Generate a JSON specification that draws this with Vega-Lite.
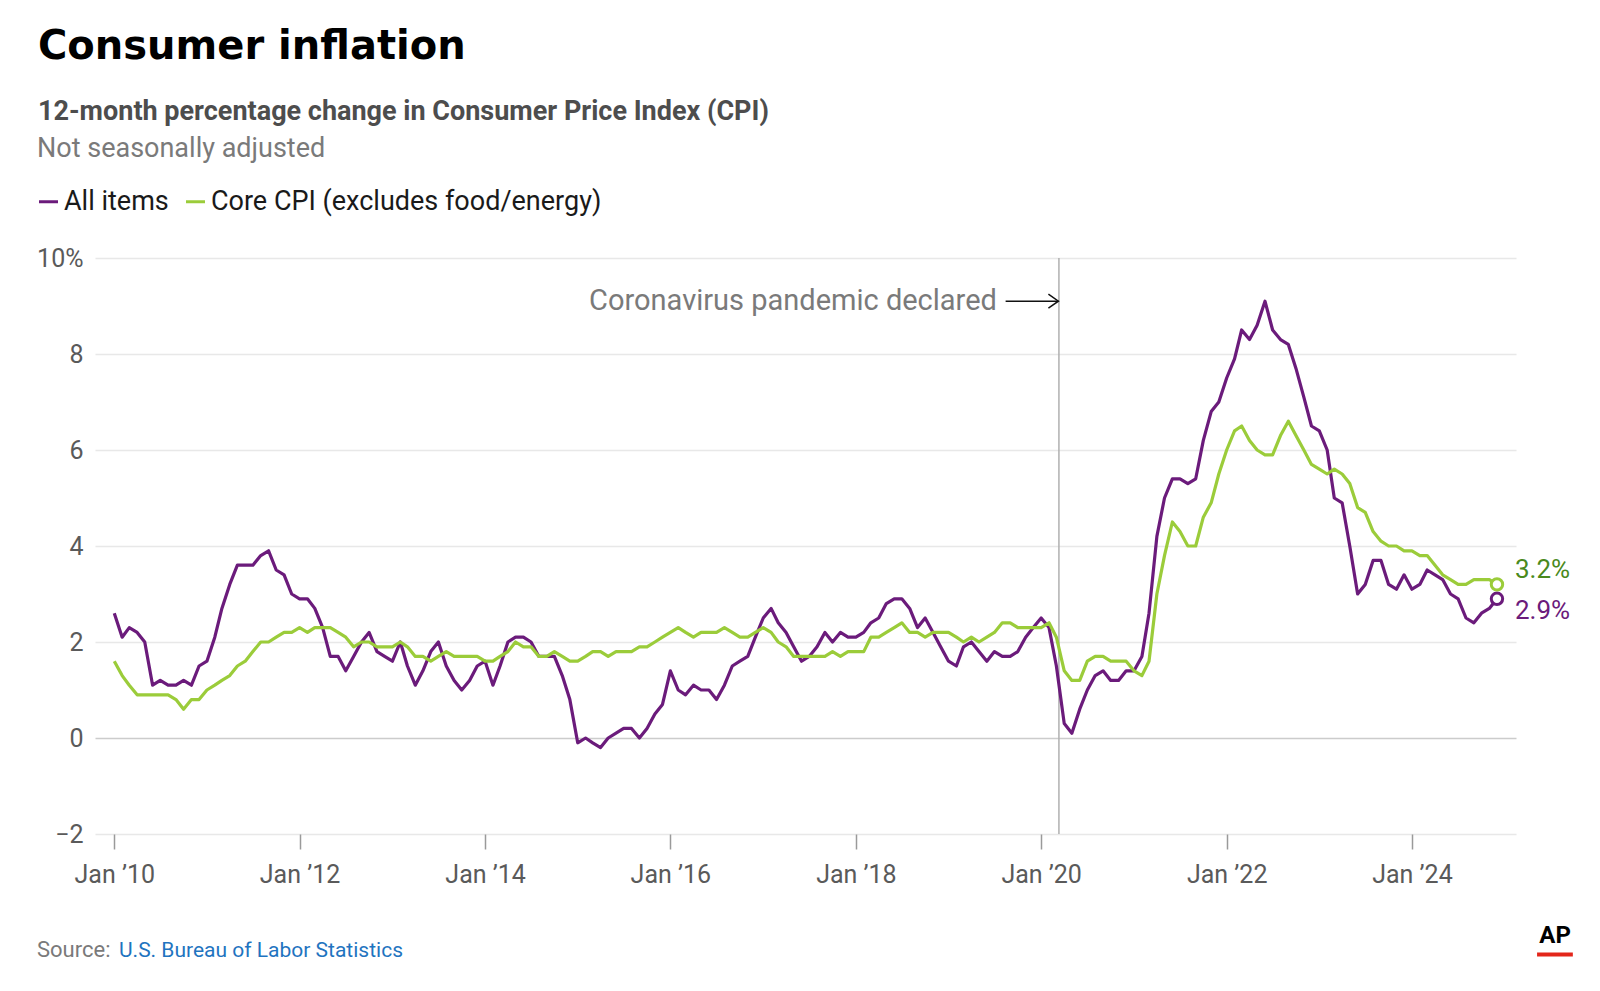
{
  "$schema": "https://vega.github.io/schema/vega-lite/v6.json",
  "width": 1421,
  "height": 576,
  "autosize": {"type": "none"},
  "padding": {"left": 95, "top": 258, "right": 84, "bottom": 157},
  "background": "white",
  "title": {
    "text": "Consumer inflation",
    "subtitle": "12-month percentage change in Consumer Price Index (CPI)",
    "anchor": "start",
    "frame": "group",
    "dx": -57,
    "offset": 10,
    "font": "DejaVu Sans",
    "fontSize": 40,
    "fontWeight": "bold",
    "color": "#000000",
    "subtitleFont": "Roboto",
    "subtitleFontSize": 27,
    "subtitleFontWeight": "bold",
    "subtitleColor": "#4d4d4d",
    "subtitlePadding": 32
  },
  "data": {
    "values": [
      {"date": "2010-01", "series": "All items", "value": 2.6},
      {"date": "2010-02", "series": "All items", "value": 2.1},
      {"date": "2010-03", "series": "All items", "value": 2.3},
      {"date": "2010-04", "series": "All items", "value": 2.2},
      {"date": "2010-05", "series": "All items", "value": 2.0},
      {"date": "2010-06", "series": "All items", "value": 1.1},
      {"date": "2010-07", "series": "All items", "value": 1.2},
      {"date": "2010-08", "series": "All items", "value": 1.1},
      {"date": "2010-09", "series": "All items", "value": 1.1},
      {"date": "2010-10", "series": "All items", "value": 1.2},
      {"date": "2010-11", "series": "All items", "value": 1.1},
      {"date": "2010-12", "series": "All items", "value": 1.5},
      {"date": "2011-01", "series": "All items", "value": 1.6},
      {"date": "2011-02", "series": "All items", "value": 2.1},
      {"date": "2011-03", "series": "All items", "value": 2.7},
      {"date": "2011-04", "series": "All items", "value": 3.2},
      {"date": "2011-05", "series": "All items", "value": 3.6},
      {"date": "2011-06", "series": "All items", "value": 3.6},
      {"date": "2011-07", "series": "All items", "value": 3.6},
      {"date": "2011-08", "series": "All items", "value": 3.8},
      {"date": "2011-09", "series": "All items", "value": 3.9},
      {"date": "2011-10", "series": "All items", "value": 3.5},
      {"date": "2011-11", "series": "All items", "value": 3.4},
      {"date": "2011-12", "series": "All items", "value": 3.0},
      {"date": "2012-01", "series": "All items", "value": 2.9},
      {"date": "2012-02", "series": "All items", "value": 2.9},
      {"date": "2012-03", "series": "All items", "value": 2.7},
      {"date": "2012-04", "series": "All items", "value": 2.3},
      {"date": "2012-05", "series": "All items", "value": 1.7},
      {"date": "2012-06", "series": "All items", "value": 1.7},
      {"date": "2012-07", "series": "All items", "value": 1.4},
      {"date": "2012-08", "series": "All items", "value": 1.7},
      {"date": "2012-09", "series": "All items", "value": 2.0},
      {"date": "2012-10", "series": "All items", "value": 2.2},
      {"date": "2012-11", "series": "All items", "value": 1.8},
      {"date": "2012-12", "series": "All items", "value": 1.7},
      {"date": "2013-01", "series": "All items", "value": 1.6},
      {"date": "2013-02", "series": "All items", "value": 2.0},
      {"date": "2013-03", "series": "All items", "value": 1.5},
      {"date": "2013-04", "series": "All items", "value": 1.1},
      {"date": "2013-05", "series": "All items", "value": 1.4},
      {"date": "2013-06", "series": "All items", "value": 1.8},
      {"date": "2013-07", "series": "All items", "value": 2.0},
      {"date": "2013-08", "series": "All items", "value": 1.5},
      {"date": "2013-09", "series": "All items", "value": 1.2},
      {"date": "2013-10", "series": "All items", "value": 1.0},
      {"date": "2013-11", "series": "All items", "value": 1.2},
      {"date": "2013-12", "series": "All items", "value": 1.5},
      {"date": "2014-01", "series": "All items", "value": 1.6},
      {"date": "2014-02", "series": "All items", "value": 1.1},
      {"date": "2014-03", "series": "All items", "value": 1.5},
      {"date": "2014-04", "series": "All items", "value": 2.0},
      {"date": "2014-05", "series": "All items", "value": 2.1},
      {"date": "2014-06", "series": "All items", "value": 2.1},
      {"date": "2014-07", "series": "All items", "value": 2.0},
      {"date": "2014-08", "series": "All items", "value": 1.7},
      {"date": "2014-09", "series": "All items", "value": 1.7},
      {"date": "2014-10", "series": "All items", "value": 1.7},
      {"date": "2014-11", "series": "All items", "value": 1.3},
      {"date": "2014-12", "series": "All items", "value": 0.8},
      {"date": "2015-01", "series": "All items", "value": -0.1},
      {"date": "2015-02", "series": "All items", "value": 0.0},
      {"date": "2015-03", "series": "All items", "value": -0.1},
      {"date": "2015-04", "series": "All items", "value": -0.2},
      {"date": "2015-05", "series": "All items", "value": 0.0},
      {"date": "2015-06", "series": "All items", "value": 0.1},
      {"date": "2015-07", "series": "All items", "value": 0.2},
      {"date": "2015-08", "series": "All items", "value": 0.2},
      {"date": "2015-09", "series": "All items", "value": 0.0},
      {"date": "2015-10", "series": "All items", "value": 0.2},
      {"date": "2015-11", "series": "All items", "value": 0.5},
      {"date": "2015-12", "series": "All items", "value": 0.7},
      {"date": "2016-01", "series": "All items", "value": 1.4},
      {"date": "2016-02", "series": "All items", "value": 1.0},
      {"date": "2016-03", "series": "All items", "value": 0.9},
      {"date": "2016-04", "series": "All items", "value": 1.1},
      {"date": "2016-05", "series": "All items", "value": 1.0},
      {"date": "2016-06", "series": "All items", "value": 1.0},
      {"date": "2016-07", "series": "All items", "value": 0.8},
      {"date": "2016-08", "series": "All items", "value": 1.1},
      {"date": "2016-09", "series": "All items", "value": 1.5},
      {"date": "2016-10", "series": "All items", "value": 1.6},
      {"date": "2016-11", "series": "All items", "value": 1.7},
      {"date": "2016-12", "series": "All items", "value": 2.1},
      {"date": "2017-01", "series": "All items", "value": 2.5},
      {"date": "2017-02", "series": "All items", "value": 2.7},
      {"date": "2017-03", "series": "All items", "value": 2.4},
      {"date": "2017-04", "series": "All items", "value": 2.2},
      {"date": "2017-05", "series": "All items", "value": 1.9},
      {"date": "2017-06", "series": "All items", "value": 1.6},
      {"date": "2017-07", "series": "All items", "value": 1.7},
      {"date": "2017-08", "series": "All items", "value": 1.9},
      {"date": "2017-09", "series": "All items", "value": 2.2},
      {"date": "2017-10", "series": "All items", "value": 2.0},
      {"date": "2017-11", "series": "All items", "value": 2.2},
      {"date": "2017-12", "series": "All items", "value": 2.1},
      {"date": "2018-01", "series": "All items", "value": 2.1},
      {"date": "2018-02", "series": "All items", "value": 2.2},
      {"date": "2018-03", "series": "All items", "value": 2.4},
      {"date": "2018-04", "series": "All items", "value": 2.5},
      {"date": "2018-05", "series": "All items", "value": 2.8},
      {"date": "2018-06", "series": "All items", "value": 2.9},
      {"date": "2018-07", "series": "All items", "value": 2.9},
      {"date": "2018-08", "series": "All items", "value": 2.7},
      {"date": "2018-09", "series": "All items", "value": 2.3},
      {"date": "2018-10", "series": "All items", "value": 2.5},
      {"date": "2018-11", "series": "All items", "value": 2.2},
      {"date": "2018-12", "series": "All items", "value": 1.9},
      {"date": "2019-01", "series": "All items", "value": 1.6},
      {"date": "2019-02", "series": "All items", "value": 1.5},
      {"date": "2019-03", "series": "All items", "value": 1.9},
      {"date": "2019-04", "series": "All items", "value": 2.0},
      {"date": "2019-05", "series": "All items", "value": 1.8},
      {"date": "2019-06", "series": "All items", "value": 1.6},
      {"date": "2019-07", "series": "All items", "value": 1.8},
      {"date": "2019-08", "series": "All items", "value": 1.7},
      {"date": "2019-09", "series": "All items", "value": 1.7},
      {"date": "2019-10", "series": "All items", "value": 1.8},
      {"date": "2019-11", "series": "All items", "value": 2.1},
      {"date": "2019-12", "series": "All items", "value": 2.3},
      {"date": "2020-01", "series": "All items", "value": 2.5},
      {"date": "2020-02", "series": "All items", "value": 2.3},
      {"date": "2020-03", "series": "All items", "value": 1.5},
      {"date": "2020-04", "series": "All items", "value": 0.3},
      {"date": "2020-05", "series": "All items", "value": 0.1},
      {"date": "2020-06", "series": "All items", "value": 0.6},
      {"date": "2020-07", "series": "All items", "value": 1.0},
      {"date": "2020-08", "series": "All items", "value": 1.3},
      {"date": "2020-09", "series": "All items", "value": 1.4},
      {"date": "2020-10", "series": "All items", "value": 1.2},
      {"date": "2020-11", "series": "All items", "value": 1.2},
      {"date": "2020-12", "series": "All items", "value": 1.4},
      {"date": "2021-01", "series": "All items", "value": 1.4},
      {"date": "2021-02", "series": "All items", "value": 1.7},
      {"date": "2021-03", "series": "All items", "value": 2.6},
      {"date": "2021-04", "series": "All items", "value": 4.2},
      {"date": "2021-05", "series": "All items", "value": 5.0},
      {"date": "2021-06", "series": "All items", "value": 5.4},
      {"date": "2021-07", "series": "All items", "value": 5.4},
      {"date": "2021-08", "series": "All items", "value": 5.3},
      {"date": "2021-09", "series": "All items", "value": 5.4},
      {"date": "2021-10", "series": "All items", "value": 6.2},
      {"date": "2021-11", "series": "All items", "value": 6.8},
      {"date": "2021-12", "series": "All items", "value": 7.0},
      {"date": "2022-01", "series": "All items", "value": 7.5},
      {"date": "2022-02", "series": "All items", "value": 7.9},
      {"date": "2022-03", "series": "All items", "value": 8.5},
      {"date": "2022-04", "series": "All items", "value": 8.3},
      {"date": "2022-05", "series": "All items", "value": 8.6},
      {"date": "2022-06", "series": "All items", "value": 9.1},
      {"date": "2022-07", "series": "All items", "value": 8.5},
      {"date": "2022-08", "series": "All items", "value": 8.3},
      {"date": "2022-09", "series": "All items", "value": 8.2},
      {"date": "2022-10", "series": "All items", "value": 7.7},
      {"date": "2022-11", "series": "All items", "value": 7.1},
      {"date": "2022-12", "series": "All items", "value": 6.5},
      {"date": "2023-01", "series": "All items", "value": 6.4},
      {"date": "2023-02", "series": "All items", "value": 6.0},
      {"date": "2023-03", "series": "All items", "value": 5.0},
      {"date": "2023-04", "series": "All items", "value": 4.9},
      {"date": "2023-05", "series": "All items", "value": 4.0},
      {"date": "2023-06", "series": "All items", "value": 3.0},
      {"date": "2023-07", "series": "All items", "value": 3.2},
      {"date": "2023-08", "series": "All items", "value": 3.7},
      {"date": "2023-09", "series": "All items", "value": 3.7},
      {"date": "2023-10", "series": "All items", "value": 3.2},
      {"date": "2023-11", "series": "All items", "value": 3.1},
      {"date": "2023-12", "series": "All items", "value": 3.4},
      {"date": "2024-01", "series": "All items", "value": 3.1},
      {"date": "2024-02", "series": "All items", "value": 3.2},
      {"date": "2024-03", "series": "All items", "value": 3.5},
      {"date": "2024-04", "series": "All items", "value": 3.4},
      {"date": "2024-05", "series": "All items", "value": 3.3},
      {"date": "2024-06", "series": "All items", "value": 3.0},
      {"date": "2024-07", "series": "All items", "value": 2.9},
      {"date": "2024-08", "series": "All items", "value": 2.5},
      {"date": "2024-09", "series": "All items", "value": 2.4},
      {"date": "2024-10", "series": "All items", "value": 2.6},
      {"date": "2024-11", "series": "All items", "value": 2.7},
      {"date": "2024-12", "series": "All items", "value": 2.9},
      {"date": "2010-01", "series": "Core CPI (excludes food/energy)", "value": 1.6},
      {"date": "2010-02", "series": "Core CPI (excludes food/energy)", "value": 1.3},
      {"date": "2010-03", "series": "Core CPI (excludes food/energy)", "value": 1.1},
      {"date": "2010-04", "series": "Core CPI (excludes food/energy)", "value": 0.9},
      {"date": "2010-05", "series": "Core CPI (excludes food/energy)", "value": 0.9},
      {"date": "2010-06", "series": "Core CPI (excludes food/energy)", "value": 0.9},
      {"date": "2010-07", "series": "Core CPI (excludes food/energy)", "value": 0.9},
      {"date": "2010-08", "series": "Core CPI (excludes food/energy)", "value": 0.9},
      {"date": "2010-09", "series": "Core CPI (excludes food/energy)", "value": 0.8},
      {"date": "2010-10", "series": "Core CPI (excludes food/energy)", "value": 0.6},
      {"date": "2010-11", "series": "Core CPI (excludes food/energy)", "value": 0.8},
      {"date": "2010-12", "series": "Core CPI (excludes food/energy)", "value": 0.8},
      {"date": "2011-01", "series": "Core CPI (excludes food/energy)", "value": 1.0},
      {"date": "2011-02", "series": "Core CPI (excludes food/energy)", "value": 1.1},
      {"date": "2011-03", "series": "Core CPI (excludes food/energy)", "value": 1.2},
      {"date": "2011-04", "series": "Core CPI (excludes food/energy)", "value": 1.3},
      {"date": "2011-05", "series": "Core CPI (excludes food/energy)", "value": 1.5},
      {"date": "2011-06", "series": "Core CPI (excludes food/energy)", "value": 1.6},
      {"date": "2011-07", "series": "Core CPI (excludes food/energy)", "value": 1.8},
      {"date": "2011-08", "series": "Core CPI (excludes food/energy)", "value": 2.0},
      {"date": "2011-09", "series": "Core CPI (excludes food/energy)", "value": 2.0},
      {"date": "2011-10", "series": "Core CPI (excludes food/energy)", "value": 2.1},
      {"date": "2011-11", "series": "Core CPI (excludes food/energy)", "value": 2.2},
      {"date": "2011-12", "series": "Core CPI (excludes food/energy)", "value": 2.2},
      {"date": "2012-01", "series": "Core CPI (excludes food/energy)", "value": 2.3},
      {"date": "2012-02", "series": "Core CPI (excludes food/energy)", "value": 2.2},
      {"date": "2012-03", "series": "Core CPI (excludes food/energy)", "value": 2.3},
      {"date": "2012-04", "series": "Core CPI (excludes food/energy)", "value": 2.3},
      {"date": "2012-05", "series": "Core CPI (excludes food/energy)", "value": 2.3},
      {"date": "2012-06", "series": "Core CPI (excludes food/energy)", "value": 2.2},
      {"date": "2012-07", "series": "Core CPI (excludes food/energy)", "value": 2.1},
      {"date": "2012-08", "series": "Core CPI (excludes food/energy)", "value": 1.9},
      {"date": "2012-09", "series": "Core CPI (excludes food/energy)", "value": 2.0},
      {"date": "2012-10", "series": "Core CPI (excludes food/energy)", "value": 2.0},
      {"date": "2012-11", "series": "Core CPI (excludes food/energy)", "value": 1.9},
      {"date": "2012-12", "series": "Core CPI (excludes food/energy)", "value": 1.9},
      {"date": "2013-01", "series": "Core CPI (excludes food/energy)", "value": 1.9},
      {"date": "2013-02", "series": "Core CPI (excludes food/energy)", "value": 2.0},
      {"date": "2013-03", "series": "Core CPI (excludes food/energy)", "value": 1.9},
      {"date": "2013-04", "series": "Core CPI (excludes food/energy)", "value": 1.7},
      {"date": "2013-05", "series": "Core CPI (excludes food/energy)", "value": 1.7},
      {"date": "2013-06", "series": "Core CPI (excludes food/energy)", "value": 1.6},
      {"date": "2013-07", "series": "Core CPI (excludes food/energy)", "value": 1.7},
      {"date": "2013-08", "series": "Core CPI (excludes food/energy)", "value": 1.8},
      {"date": "2013-09", "series": "Core CPI (excludes food/energy)", "value": 1.7},
      {"date": "2013-10", "series": "Core CPI (excludes food/energy)", "value": 1.7},
      {"date": "2013-11", "series": "Core CPI (excludes food/energy)", "value": 1.7},
      {"date": "2013-12", "series": "Core CPI (excludes food/energy)", "value": 1.7},
      {"date": "2014-01", "series": "Core CPI (excludes food/energy)", "value": 1.6},
      {"date": "2014-02", "series": "Core CPI (excludes food/energy)", "value": 1.6},
      {"date": "2014-03", "series": "Core CPI (excludes food/energy)", "value": 1.7},
      {"date": "2014-04", "series": "Core CPI (excludes food/energy)", "value": 1.8},
      {"date": "2014-05", "series": "Core CPI (excludes food/energy)", "value": 2.0},
      {"date": "2014-06", "series": "Core CPI (excludes food/energy)", "value": 1.9},
      {"date": "2014-07", "series": "Core CPI (excludes food/energy)", "value": 1.9},
      {"date": "2014-08", "series": "Core CPI (excludes food/energy)", "value": 1.7},
      {"date": "2014-09", "series": "Core CPI (excludes food/energy)", "value": 1.7},
      {"date": "2014-10", "series": "Core CPI (excludes food/energy)", "value": 1.8},
      {"date": "2014-11", "series": "Core CPI (excludes food/energy)", "value": 1.7},
      {"date": "2014-12", "series": "Core CPI (excludes food/energy)", "value": 1.6},
      {"date": "2015-01", "series": "Core CPI (excludes food/energy)", "value": 1.6},
      {"date": "2015-02", "series": "Core CPI (excludes food/energy)", "value": 1.7},
      {"date": "2015-03", "series": "Core CPI (excludes food/energy)", "value": 1.8},
      {"date": "2015-04", "series": "Core CPI (excludes food/energy)", "value": 1.8},
      {"date": "2015-05", "series": "Core CPI (excludes food/energy)", "value": 1.7},
      {"date": "2015-06", "series": "Core CPI (excludes food/energy)", "value": 1.8},
      {"date": "2015-07", "series": "Core CPI (excludes food/energy)", "value": 1.8},
      {"date": "2015-08", "series": "Core CPI (excludes food/energy)", "value": 1.8},
      {"date": "2015-09", "series": "Core CPI (excludes food/energy)", "value": 1.9},
      {"date": "2015-10", "series": "Core CPI (excludes food/energy)", "value": 1.9},
      {"date": "2015-11", "series": "Core CPI (excludes food/energy)", "value": 2.0},
      {"date": "2015-12", "series": "Core CPI (excludes food/energy)", "value": 2.1},
      {"date": "2016-01", "series": "Core CPI (excludes food/energy)", "value": 2.2},
      {"date": "2016-02", "series": "Core CPI (excludes food/energy)", "value": 2.3},
      {"date": "2016-03", "series": "Core CPI (excludes food/energy)", "value": 2.2},
      {"date": "2016-04", "series": "Core CPI (excludes food/energy)", "value": 2.1},
      {"date": "2016-05", "series": "Core CPI (excludes food/energy)", "value": 2.2},
      {"date": "2016-06", "series": "Core CPI (excludes food/energy)", "value": 2.2},
      {"date": "2016-07", "series": "Core CPI (excludes food/energy)", "value": 2.2},
      {"date": "2016-08", "series": "Core CPI (excludes food/energy)", "value": 2.3},
      {"date": "2016-09", "series": "Core CPI (excludes food/energy)", "value": 2.2},
      {"date": "2016-10", "series": "Core CPI (excludes food/energy)", "value": 2.1},
      {"date": "2016-11", "series": "Core CPI (excludes food/energy)", "value": 2.1},
      {"date": "2016-12", "series": "Core CPI (excludes food/energy)", "value": 2.2},
      {"date": "2017-01", "series": "Core CPI (excludes food/energy)", "value": 2.3},
      {"date": "2017-02", "series": "Core CPI (excludes food/energy)", "value": 2.2},
      {"date": "2017-03", "series": "Core CPI (excludes food/energy)", "value": 2.0},
      {"date": "2017-04", "series": "Core CPI (excludes food/energy)", "value": 1.9},
      {"date": "2017-05", "series": "Core CPI (excludes food/energy)", "value": 1.7},
      {"date": "2017-06", "series": "Core CPI (excludes food/energy)", "value": 1.7},
      {"date": "2017-07", "series": "Core CPI (excludes food/energy)", "value": 1.7},
      {"date": "2017-08", "series": "Core CPI (excludes food/energy)", "value": 1.7},
      {"date": "2017-09", "series": "Core CPI (excludes food/energy)", "value": 1.7},
      {"date": "2017-10", "series": "Core CPI (excludes food/energy)", "value": 1.8},
      {"date": "2017-11", "series": "Core CPI (excludes food/energy)", "value": 1.7},
      {"date": "2017-12", "series": "Core CPI (excludes food/energy)", "value": 1.8},
      {"date": "2018-01", "series": "Core CPI (excludes food/energy)", "value": 1.8},
      {"date": "2018-02", "series": "Core CPI (excludes food/energy)", "value": 1.8},
      {"date": "2018-03", "series": "Core CPI (excludes food/energy)", "value": 2.1},
      {"date": "2018-04", "series": "Core CPI (excludes food/energy)", "value": 2.1},
      {"date": "2018-05", "series": "Core CPI (excludes food/energy)", "value": 2.2},
      {"date": "2018-06", "series": "Core CPI (excludes food/energy)", "value": 2.3},
      {"date": "2018-07", "series": "Core CPI (excludes food/energy)", "value": 2.4},
      {"date": "2018-08", "series": "Core CPI (excludes food/energy)", "value": 2.2},
      {"date": "2018-09", "series": "Core CPI (excludes food/energy)", "value": 2.2},
      {"date": "2018-10", "series": "Core CPI (excludes food/energy)", "value": 2.1},
      {"date": "2018-11", "series": "Core CPI (excludes food/energy)", "value": 2.2},
      {"date": "2018-12", "series": "Core CPI (excludes food/energy)", "value": 2.2},
      {"date": "2019-01", "series": "Core CPI (excludes food/energy)", "value": 2.2},
      {"date": "2019-02", "series": "Core CPI (excludes food/energy)", "value": 2.1},
      {"date": "2019-03", "series": "Core CPI (excludes food/energy)", "value": 2.0},
      {"date": "2019-04", "series": "Core CPI (excludes food/energy)", "value": 2.1},
      {"date": "2019-05", "series": "Core CPI (excludes food/energy)", "value": 2.0},
      {"date": "2019-06", "series": "Core CPI (excludes food/energy)", "value": 2.1},
      {"date": "2019-07", "series": "Core CPI (excludes food/energy)", "value": 2.2},
      {"date": "2019-08", "series": "Core CPI (excludes food/energy)", "value": 2.4},
      {"date": "2019-09", "series": "Core CPI (excludes food/energy)", "value": 2.4},
      {"date": "2019-10", "series": "Core CPI (excludes food/energy)", "value": 2.3},
      {"date": "2019-11", "series": "Core CPI (excludes food/energy)", "value": 2.3},
      {"date": "2019-12", "series": "Core CPI (excludes food/energy)", "value": 2.3},
      {"date": "2020-01", "series": "Core CPI (excludes food/energy)", "value": 2.3},
      {"date": "2020-02", "series": "Core CPI (excludes food/energy)", "value": 2.4},
      {"date": "2020-03", "series": "Core CPI (excludes food/energy)", "value": 2.1},
      {"date": "2020-04", "series": "Core CPI (excludes food/energy)", "value": 1.4},
      {"date": "2020-05", "series": "Core CPI (excludes food/energy)", "value": 1.2},
      {"date": "2020-06", "series": "Core CPI (excludes food/energy)", "value": 1.2},
      {"date": "2020-07", "series": "Core CPI (excludes food/energy)", "value": 1.6},
      {"date": "2020-08", "series": "Core CPI (excludes food/energy)", "value": 1.7},
      {"date": "2020-09", "series": "Core CPI (excludes food/energy)", "value": 1.7},
      {"date": "2020-10", "series": "Core CPI (excludes food/energy)", "value": 1.6},
      {"date": "2020-11", "series": "Core CPI (excludes food/energy)", "value": 1.6},
      {"date": "2020-12", "series": "Core CPI (excludes food/energy)", "value": 1.6},
      {"date": "2021-01", "series": "Core CPI (excludes food/energy)", "value": 1.4},
      {"date": "2021-02", "series": "Core CPI (excludes food/energy)", "value": 1.3},
      {"date": "2021-03", "series": "Core CPI (excludes food/energy)", "value": 1.6},
      {"date": "2021-04", "series": "Core CPI (excludes food/energy)", "value": 3.0},
      {"date": "2021-05", "series": "Core CPI (excludes food/energy)", "value": 3.8},
      {"date": "2021-06", "series": "Core CPI (excludes food/energy)", "value": 4.5},
      {"date": "2021-07", "series": "Core CPI (excludes food/energy)", "value": 4.3},
      {"date": "2021-08", "series": "Core CPI (excludes food/energy)", "value": 4.0},
      {"date": "2021-09", "series": "Core CPI (excludes food/energy)", "value": 4.0},
      {"date": "2021-10", "series": "Core CPI (excludes food/energy)", "value": 4.6},
      {"date": "2021-11", "series": "Core CPI (excludes food/energy)", "value": 4.9},
      {"date": "2021-12", "series": "Core CPI (excludes food/energy)", "value": 5.5},
      {"date": "2022-01", "series": "Core CPI (excludes food/energy)", "value": 6.0},
      {"date": "2022-02", "series": "Core CPI (excludes food/energy)", "value": 6.4},
      {"date": "2022-03", "series": "Core CPI (excludes food/energy)", "value": 6.5},
      {"date": "2022-04", "series": "Core CPI (excludes food/energy)", "value": 6.2},
      {"date": "2022-05", "series": "Core CPI (excludes food/energy)", "value": 6.0},
      {"date": "2022-06", "series": "Core CPI (excludes food/energy)", "value": 5.9},
      {"date": "2022-07", "series": "Core CPI (excludes food/energy)", "value": 5.9},
      {"date": "2022-08", "series": "Core CPI (excludes food/energy)", "value": 6.3},
      {"date": "2022-09", "series": "Core CPI (excludes food/energy)", "value": 6.6},
      {"date": "2022-10", "series": "Core CPI (excludes food/energy)", "value": 6.3},
      {"date": "2022-11", "series": "Core CPI (excludes food/energy)", "value": 6.0},
      {"date": "2022-12", "series": "Core CPI (excludes food/energy)", "value": 5.7},
      {"date": "2023-01", "series": "Core CPI (excludes food/energy)", "value": 5.6},
      {"date": "2023-02", "series": "Core CPI (excludes food/energy)", "value": 5.5},
      {"date": "2023-03", "series": "Core CPI (excludes food/energy)", "value": 5.6},
      {"date": "2023-04", "series": "Core CPI (excludes food/energy)", "value": 5.5},
      {"date": "2023-05", "series": "Core CPI (excludes food/energy)", "value": 5.3},
      {"date": "2023-06", "series": "Core CPI (excludes food/energy)", "value": 4.8},
      {"date": "2023-07", "series": "Core CPI (excludes food/energy)", "value": 4.7},
      {"date": "2023-08", "series": "Core CPI (excludes food/energy)", "value": 4.3},
      {"date": "2023-09", "series": "Core CPI (excludes food/energy)", "value": 4.1},
      {"date": "2023-10", "series": "Core CPI (excludes food/energy)", "value": 4.0},
      {"date": "2023-11", "series": "Core CPI (excludes food/energy)", "value": 4.0},
      {"date": "2023-12", "series": "Core CPI (excludes food/energy)", "value": 3.9},
      {"date": "2024-01", "series": "Core CPI (excludes food/energy)", "value": 3.9},
      {"date": "2024-02", "series": "Core CPI (excludes food/energy)", "value": 3.8},
      {"date": "2024-03", "series": "Core CPI (excludes food/energy)", "value": 3.8},
      {"date": "2024-04", "series": "Core CPI (excludes food/energy)", "value": 3.6},
      {"date": "2024-05", "series": "Core CPI (excludes food/energy)", "value": 3.4},
      {"date": "2024-06", "series": "Core CPI (excludes food/energy)", "value": 3.3},
      {"date": "2024-07", "series": "Core CPI (excludes food/energy)", "value": 3.2},
      {"date": "2024-08", "series": "Core CPI (excludes food/energy)", "value": 3.2},
      {"date": "2024-09", "series": "Core CPI (excludes food/energy)", "value": 3.3},
      {"date": "2024-10", "series": "Core CPI (excludes food/energy)", "value": 3.3},
      {"date": "2024-11", "series": "Core CPI (excludes food/energy)", "value": 3.3},
      {"date": "2024-12", "series": "Core CPI (excludes food/energy)", "value": 3.2}
    ],
    "format": {"parse": {"date": "utc:'%Y-%m'"}}
  },
  "encoding": {
    "x": {
      "field": "date",
      "type": "temporal",
      "scale": {
        "type": "utc",
        "domain": [
          {"year": 2009, "month": 10, "date": 17, "utc": true},
          {"year": 2025, "month": 2, "date": 14, "utc": true}
        ]
      },
      "axis": {
        "title": null,
        "grid": false,
        "domain": false,
        "values": [
          {"year": 2010, "month": 1, "date": 1, "utc": true},
          {"year": 2012, "month": 1, "date": 1, "utc": true},
          {"year": 2014, "month": 1, "date": 1, "utc": true},
          {"year": 2016, "month": 1, "date": 1, "utc": true},
          {"year": 2018, "month": 1, "date": 1, "utc": true},
          {"year": 2020, "month": 1, "date": 1, "utc": true},
          {"year": 2022, "month": 1, "date": 1, "utc": true},
          {"year": 2024, "month": 1, "date": 1, "utc": true}
        ],
        "labelExpr": "'Jan ’' + utcFormat(datum.value, '%y')",
        "tickSize": 15,
        "tickWidth": 1.5,
        "tickColor": "#9a9a9a",
        "labelPadding": 13,
        "labelFont": "Roboto",
        "labelFontSize": 25,
        "labelColor": "#5a5a5a",
        "labelFlush": false
      }
    },
    "y": {
      "field": "value",
      "type": "quantitative",
      "scale": {"domain": [-2, 10], "nice": false, "zero": false},
      "axis": {
        "title": null,
        "values": [-2, 0, 2, 4, 6, 8, 10],
        "domain": false,
        "ticks": false,
        "labelPadding": 12,
        "labelFont": "Roboto",
        "labelFontSize": 25,
        "labelColor": "#5a5a5a",
        "labelExpr": "datum.value === 10 ? '10%' : datum.label",
        "gridWidth": 1.5,
        "gridColor": {"condition": {"test": "datum.value === 0", "value": "#cccccc"}, "value": "#e8e8e8"}
      }
    }
  },
  "layer": [
    {
      "transform": [{"filter": "datum.series === 'All items' && utcyear(datum.date) === 2020 && utcmonth(datum.date) === 2"}],
      "mark": {"type": "rule", "color": "#b0b0b0", "strokeWidth": 1.5},
      "encoding": {
        "x": {"datum": {"year": 2020, "month": 3, "date": 11, "utc": true}, "type": "temporal"},
        "y": {"datum": 10},
        "y2": {"datum": -2}
      }
    },
    {
      "mark": {"type": "line", "strokeWidth": 3.2, "strokeJoin": "round"},
      "encoding": {
        "color": {
          "field": "series",
          "type": "nominal",
          "scale": {
            "domain": ["All items", "Core CPI (excludes food/energy)"],
            "range": ["#6b1b7b", "#9bcc3a"]
          },
          "legend": {
            "orient": "none",
            "legendX": -60,
            "legendY": -70,
            "direction": "horizontal",
            "title": null,
            "padding": 0,
            "symbolType": "stroke",
            "symbolSize": 361,
            "symbolStrokeWidth": 3,
            "labelFont": "Roboto",
            "labelFontSize": 27,
            "labelColor": "#1a1a1a",
            "labelOffset": 2,
            "columnPadding": 11,
            "labelLimit": 600
          }
        },
        "order": {"field": "date", "type": "temporal"}
      }
    },
    {
      "transform": [{"filter": "utcyear(datum.date) === 2024 && utcmonth(datum.date) === 11"}],
      "mark": {"type": "point", "filled": true, "fill": "white", "strokeWidth": 3, "size": 130, "opacity": 1},
      "encoding": {
        "stroke": {
          "field": "series",
          "type": "nominal",
          "scale": {
            "domain": ["All items", "Core CPI (excludes food/energy)"],
            "range": ["#6b1b7b", "#9bcc3a"]
          },
          "legend": null
        }
      }
    },
    {
      "transform": [
        {"filter": "utcyear(datum.date) === 2024 && utcmonth(datum.date) === 11"},
        {"filter": "datum.series === 'Core CPI (excludes food/energy)'"}
      ],
      "mark": {
        "type": "text",
        "align": "left",
        "baseline": "middle",
        "dx": 18,
        "dy": -14,
        "font": "Roboto",
        "fontSize": 26,
        "color": "#4a8a1c",
        "text": {"expr": "format(datum.value, '.1f') + '%'"}
      }
    },
    {
      "transform": [
        {"filter": "utcyear(datum.date) === 2024 && utcmonth(datum.date) === 11"},
        {"filter": "datum.series === 'All items'"}
      ],
      "mark": {
        "type": "text",
        "align": "left",
        "baseline": "middle",
        "dx": 18,
        "dy": 12,
        "font": "Roboto",
        "fontSize": 26,
        "color": "#6b1b7b",
        "text": {"expr": "format(datum.value, '.1f') + '%'"}
      }
    },
    {
      "transform": [{"filter": "datum.series === 'All items' && utcyear(datum.date) === 2020 && utcmonth(datum.date) === 2"}],
      "mark": {"type": "rule", "color": "#111111", "strokeWidth": 1.5},
      "encoding": {
        "x": {"datum": {"year": 2019, "month": 8, "date": 14, "utc": true}, "type": "temporal"},
        "x2": {"datum": {"year": 2020, "month": 3, "date": 9, "utc": true}},
        "y": {"datum": 9.1}
      }
    },
    {
      "transform": [{"filter": "datum.series === 'All items' && utcyear(datum.date) === 2020 && utcmonth(datum.date) === 2"}],
      "mark": {"type": "point", "shape": "M-1,-0.7L0,0L-1,0.7", "filled": false, "color": "#111111", "strokeWidth": 1.5, "size": 400, "opacity": 1},
      "encoding": {
        "x": {"datum": {"year": 2020, "month": 3, "date": 9, "utc": true}, "type": "temporal"},
        "y": {"datum": 9.1}
      }
    },
    {
      "transform": [{"filter": "datum.series === 'All items' && utcyear(datum.date) === 2020 && utcmonth(datum.date) === 2"}],
      "mark": {"type": "text", "text": "Coronavirus pandemic declared", "align": "right", "baseline": "middle", "dx": -62, "font": "Roboto", "fontSize": 29, "color": "#7a7a7a"},
      "encoding": {
        "x": {"datum": {"year": 2020, "month": 3, "date": 11, "utc": true}, "type": "temporal"},
        "y": {"datum": 9.1}
      }
    },
    {
      "transform": [{"filter": "datum.series === 'All items' && utcyear(datum.date) === 2010 && utcmonth(datum.date) === 0"}],
      "mark": {"type": "text", "text": "Not seasonally adjusted", "align": "left", "baseline": "alphabetic", "dx": -58, "font": "Roboto", "fontSize": 27, "color": "#7a7a7a"},
      "encoding": {
        "x": {"datum": {"year": 2009, "month": 10, "date": 17, "utc": true}, "type": "temporal"},
        "y": {"datum": 12.1}
      }
    },
    {
      "transform": [{"filter": "datum.series === 'All items' && utcyear(datum.date) === 2010 && utcmonth(datum.date) === 0"}],
      "mark": {"type": "text", "text": "Source:", "align": "left", "baseline": "alphabetic", "dx": -58, "font": "Roboto", "fontSize": 22, "color": "#7a7a7a"},
      "encoding": {
        "x": {"datum": {"year": 2009, "month": 10, "date": 17, "utc": true}, "type": "temporal"},
        "y": {"datum": -4.57}
      }
    },
    {
      "transform": [{"filter": "datum.series === 'All items' && utcyear(datum.date) === 2010 && utcmonth(datum.date) === 0"}],
      "mark": {"type": "text", "text": "U.S. Bureau of Labor Statistics", "align": "left", "baseline": "alphabetic", "dx": 24, "font": "Roboto", "fontSize": 21, "color": "#1f74c0"},
      "encoding": {
        "x": {"datum": {"year": 2009, "month": 10, "date": 17, "utc": true}, "type": "temporal"},
        "y": {"datum": -4.57}
      }
    },
    {
      "transform": [{"filter": "datum.series === 'All items' && utcyear(datum.date) === 2024 && utcmonth(datum.date) === 11"}],
      "mark": {"type": "text", "text": "AP", "align": "center", "baseline": "alphabetic", "font": "Roboto", "fontSize": 24, "fontWeight": "bold", "color": "#000000"},
      "encoding": {
        "x": {"datum": {"year": 2025, "month": 7, "date": 18, "utc": true}, "type": "temporal"},
        "y": {"datum": -4.28}
      }
    },
    {
      "transform": [{"filter": "datum.series === 'All items' && utcyear(datum.date) === 2024 && utcmonth(datum.date) === 11"}],
      "mark": {"type": "rule", "color": "#e3261b", "strokeWidth": 4},
      "encoding": {
        "x": {"datum": {"year": 2025, "month": 5, "date": 8, "utc": true}, "type": "temporal"},
        "x2": {"datum": {"year": 2025, "month": 9, "date": 26, "utc": true}},
        "y": {"datum": -4.51}
      }
    }
  ],
  "config": {
    "view": {"stroke": null}
  }
}
